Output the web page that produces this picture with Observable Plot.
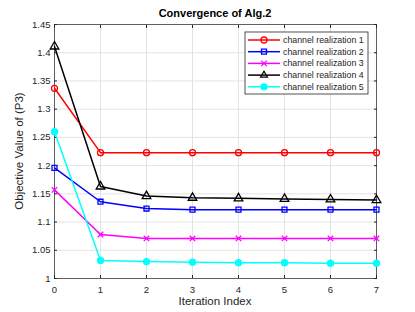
<!DOCTYPE html>
<html><head><meta charset="utf-8">
<script src="https://cdn.jsdelivr.net/npm/d3@7"></script>
<script src="https://cdn.jsdelivr.net/npm/@observablehq/plot@0.6"></script>
<style>body{margin:0;background:#fff;} #chart{width:415px;height:312px;}</style>
</head><body><div id="chart"></div>
<script>
const iterations = [0, 1, 2, 3, 4, 5, 6, 7];
const yTicks = [1, 1.05, 1.1, 1.15, 1.2, 1.25, 1.3, 1.35, 1.4, 1.45];
const seriesNames = ["channel realization 1", "channel realization 2", "channel realization 3", "channel realization 4", "channel realization 5"];
const real1 = [1.337, 1.223, 1.223, 1.223, 1.223, 1.223, 1.223, 1.223];
const real2 = [1.196, 1.136, 1.124, 1.122, 1.122, 1.122, 1.122, 1.122];
const real3 = [1.157, 1.078, 1.071, 1.071, 1.071, 1.071, 1.071, 1.071];
const real4 = [1.411, 1.163, 1.146, 1.143, 1.142, 1.141, 1.140, 1.139];
const real5 = [1.260, 1.032, 1.030, 1.029, 1.028, 1.028, 1.027, 1.027];
const seriesValues = [real1, real2, real3, real4, real5];
const colors = ["#ff0000", "#0000ff", "#ff00ff", "#000000", "#00ffff"];
const symbols = ["circle", "square", "times", "triangle", "circle"];
const filled = [false, false, false, false, true];

const series = seriesNames.map((name, i) => ({
  name, color: colors[i], symbol: symbols[i], filled: filled[i],
  points: iterations.map((x, j) => ({x, y: seriesValues[i][j]}))
}));

const fmtY = d => String(+d.toFixed(2));
const fmtX = d => String(d);
const symR = {circle: 3, square: 2.8, times: 2.6, triangle: 3.2};

const marks = [
  Plot.gridX(iterations, {stroke: "#e3e3e3", strokeOpacity: 1}),
  Plot.gridY(yTicks, {stroke: "#e3e3e3", strokeOpacity: 1}),
  Plot.axisX({ticks: iterations, tickSize: 0, tickPadding: 8, fontSize: 9.5, fill: "#262626", tickFormat: fmtX}),
  Plot.axisX({ticks: iterations, anchor: "bottom", tickSize: -3, tickFormat: () => "", stroke: "#262626"}),
  Plot.axisX({ticks: iterations, anchor: "top", tickSize: -3, tickFormat: () => "", stroke: "#262626", label: null}),
  Plot.axisY({ticks: yTicks, tickSize: 0, tickPadding: 4, fontSize: 9.5, fill: "#262626", label: null, tickFormat: fmtY}),
  Plot.axisY({ticks: yTicks, anchor: "left", tickSize: -3, tickFormat: () => "", stroke: "#262626", label: null}),
  Plot.axisY({ticks: yTicks, anchor: "right", tickSize: -3, tickFormat: () => "", stroke: "#262626", label: null}),
  Plot.frame({stroke: "#262626", strokeOpacity: 0.7})
];
for (const s of series) {
  marks.push(Plot.line(s.points, {x: "x", y: "y", stroke: s.color, strokeWidth: 1.5}));
  marks.push(Plot.dot(s.points, {x: "x", y: "y", stroke: s.color, strokeWidth: 1.3, symbol: () => s.symbol, r: symR[s.symbol], fill: s.filled ? s.color : "none"}));
}

const plot = Plot.plot({
  width: 415, height: 312,
  marginTop: 24, marginRight: 39, marginBottom: 34, marginLeft: 54,
  style: {fontFamily: "'Liberation Sans', Arial, sans-serif", fontSize: "10px", background: "#fff", color: "#262626"},
  x: {domain: [0, 7], label: null},
  y: {domain: [1, 1.45], label: null},
  symbol: {type: "identity"},
  marks
});
document.getElementById("chart").appendChild(plot);

const svg = d3.select(plot);
const xr = plot.scale("x").range, yr = plot.scale("y").range;
const cx = (xr[0] + xr[1]) / 2;
svg.append("text").attr("x", cx).attr("y", 17).attr("text-anchor", "middle")
  .attr("font-weight", "bold").attr("font-size", 11).attr("fill", "#000").text("Convergence of Alg.2");
svg.append("text").attr("x", cx).attr("y", 305).attr("text-anchor", "middle")
  .attr("font-size", 11.5).attr("fill", "#262626").text("Iteration Index");
svg.append("text").attr("transform", `translate(23,${(yr[0] + yr[1]) / 2}) rotate(-90)`)
  .attr("text-anchor", "middle").attr("font-size", 11.5).attr("fill", "#262626").text("Objective Value of (P3)");

// legend
const lx = 245, ly = 32, lw = 123, lh = 62, rowH = 11.7;
const lg = svg.append("g");
lg.append("rect").attr("x", lx).attr("y", ly).attr("width", lw).attr("height", lh)
  .attr("fill", "#fff").attr("stroke", "#262626").attr("stroke-width", 0.8);
const d3sym = {circle: d3.symbolCircle, square: d3.symbolSquare, times: d3.symbolTimes, triangle: d3.symbolTriangle2};
series.forEach((s, i) => {
  const y = ly + 8 + i * rowH;
  lg.append("line").attr("x1", lx + 3).attr("x2", lx + 35).attr("y1", y).attr("y2", y)
    .attr("stroke", s.color).attr("stroke-width", 1.5);
  lg.append("path").attr("transform", `translate(${lx + 19},${y})`)
    .attr("d", d3.symbol().type(d3sym[s.symbol]).size(Math.PI * symR[s.symbol] ** 2)())
    .attr("stroke", s.color).attr("stroke-width", 1.3).attr("fill", s.filled ? s.color : "none");
  lg.append("text").attr("x", lx + 38).attr("y", y).attr("dy", "0.35em").attr("text-anchor", "start")
    .attr("font-size", 8.8).attr("fill", "#262626").text(s.name);
});
</script></body></html>
